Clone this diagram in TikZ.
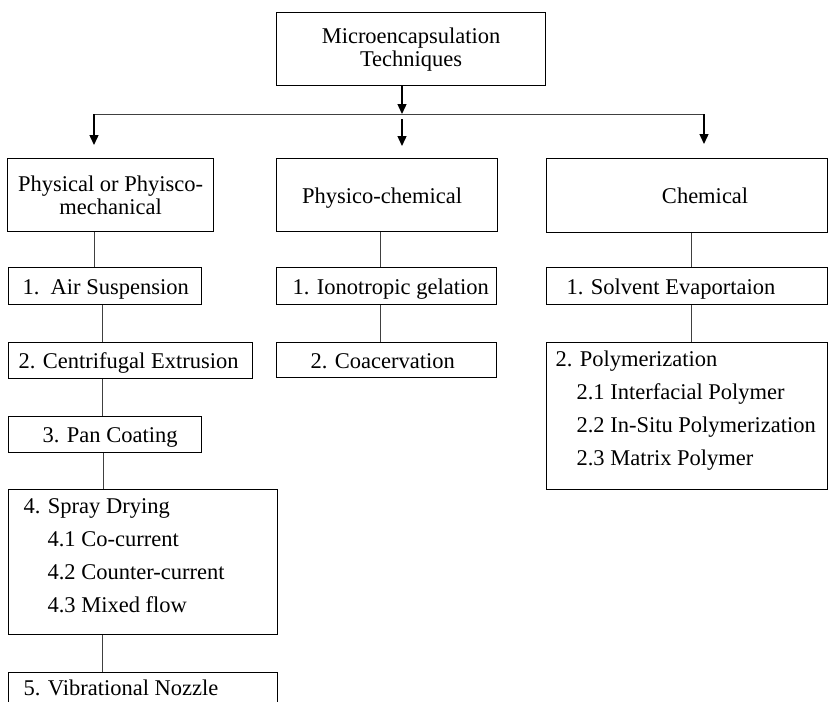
\documentclass[tikz,border=0pt]{standalone}
\usepackage{fontspec}
\setmainfont{Liberation Serif}
\usetikzlibrary{arrows.meta}

\begin{document}
\begin{tikzpicture}[
        % --- 區域樣式設定 ---
        x=1pt, y=-1pt,
        every node/.style={font=\fontsize{22.5}{23}\selectfont, inner sep=0pt},
        box/.style={draw=black, line width=1.2pt, rectangle, anchor=north west},
        cbox/.style={box, align=center},                   % 置中文字
        lbox/.style={box, text height=16pt, text depth=0pt}, % 單行文字
        link/.style={draw=black!75, line width=1pt},
        arr/.style={draw=black, line width=1.4pt, -{Triangle[length=10pt,width=9pt]}},
        % --------------------
    ]
    \useasboundingbox (0,0) rectangle (828,702);
    \clip (0,0) rectangle (828,702);

    % 根節點
    \node[cbox, minimum width=269pt, minimum height=73pt] (top) at (276,12)
        {Microencapsulation\\Techniques};

    % --- 第一層 ---
    \node[cbox, minimum width=206pt, minimum height=73pt] (phys) at (7,158)
        {Physical or Phyisco-\\mechanical};
    \node[lbox, minimum width=221pt, minimum height=73pt] (pchem) at (276,158)
        {Physico-chemical\hspace*{10pt}};
    \node[lbox, minimum width=281pt, minimum height=74pt] (chem) at (546,158)
        {\hspace*{36pt}Chemical};

    % --- 左欄 ---
    \node[lbox, minimum width=193pt, minimum height=37pt] (air) at (8,267)
        {\makebox[193pt][l]{\hspace*{14pt}1.\ \ Air Suspension}};
    \node[lbox, minimum width=244pt, minimum height=36pt] (centri) at (8,342)
        {\makebox[244pt][l]{\hspace*{10pt}2. Centrifugal Extrusion}};
    \node[lbox, minimum width=193pt, minimum height=36pt] (pan) at (8,416)
        {\makebox[193pt][l]{\hspace*{34pt}3. Pan Coating}};
    \node[box] (spray) at (8,489)
        {\parbox[c][145pt][t]{269pt}{\fontsize{22.5}{33}\selectfont
         \hspace*{15pt}\rule{0pt}{24pt}4. Spray Drying\\
         \hspace*{39pt}4.1 Co-current\\
         \hspace*{39pt}4.2 Counter-current\\
         \hspace*{39pt}4.3 Mixed flow}};
    \node[lbox, minimum width=269pt, minimum height=40pt, text depth=10pt] (vib) at (8,672)
        {\makebox[269pt][l]{\hspace*{15pt}5. Vibrational Nozzle}};

    % --- 中欄 ---
    \node[lbox, minimum width=220pt, minimum height=37pt] (iono) at (276,267)
        {\makebox[220pt][l]{\hspace*{16pt}1. Ionotropic gelation}};
    \node[lbox, minimum width=220pt, minimum height=35pt] (coac) at (276,342)
        {\makebox[220pt][l]{\hspace*{34pt}2. Coacervation}};

    % --- 右欄 ---
    \node[lbox, minimum width=281pt, minimum height=37pt] (solv) at (546,267)
        {\makebox[281pt][l]{\hspace*{20pt}1. Solvent Evaportaion}};
    \node[box] (poly) at (546,342)
        {\parbox[c][147pt][t]{281pt}{\fontsize{22.5}{33}\selectfont
         \hspace*{9pt}\rule{0pt}{24pt}2. Polymerization\\
         \hspace*{30pt}2.1 Interfacial Polymer\\
         \hspace*{30pt}2.2 In-Situ Polymerization\\
         \hspace*{30pt}2.3 Matrix Polymer}};

    % --- 箭頭 ---
    \coordinate (busL) at (94,114);
    \coordinate (busM) at (402,114);
    \coordinate (busR) at (704,114);
    \draw[arr] (top.south -| busM) -- (busM);
    \draw[link] (busL) -- (busR);
    \draw[arr, shorten >=13pt] (busL) -- (phys.north -| busL);
    \draw[arr, shorten >=12pt] ([yshift=-5pt]busM) -- (pchem.north -| busM);
    \draw[arr, shorten >=14pt] (busR) -- (chem.north -| busR);

    % --- 連線 ---
    \draw[link] (phys.south -| 94,0) -- (air.north -| 94,0);
    \draw[link] (air.south -| 102,0) -- (centri.north -| 102,0);
    \draw[link] (centri.south -| 102,0) -- (pan.north -| 102,0);
    \draw[link] (pan.south -| 103,0) -- (spray.north -| 103,0);
    \draw[link] (spray.south -| 102,0) -- (vib.north -| 102,0);
    \draw[link] (pchem.south -| 380,0) -- (iono.north -| 380,0);
    \draw[link] (iono.south -| 380,0) -- (coac.north -| 380,0);
    \draw[link] (chem.south -| 691,0) -- (solv.north -| 691,0);
    \draw[link] (solv.south -| 691,0) -- (poly.north -| 691,0);
\end{tikzpicture}
\end{document}
